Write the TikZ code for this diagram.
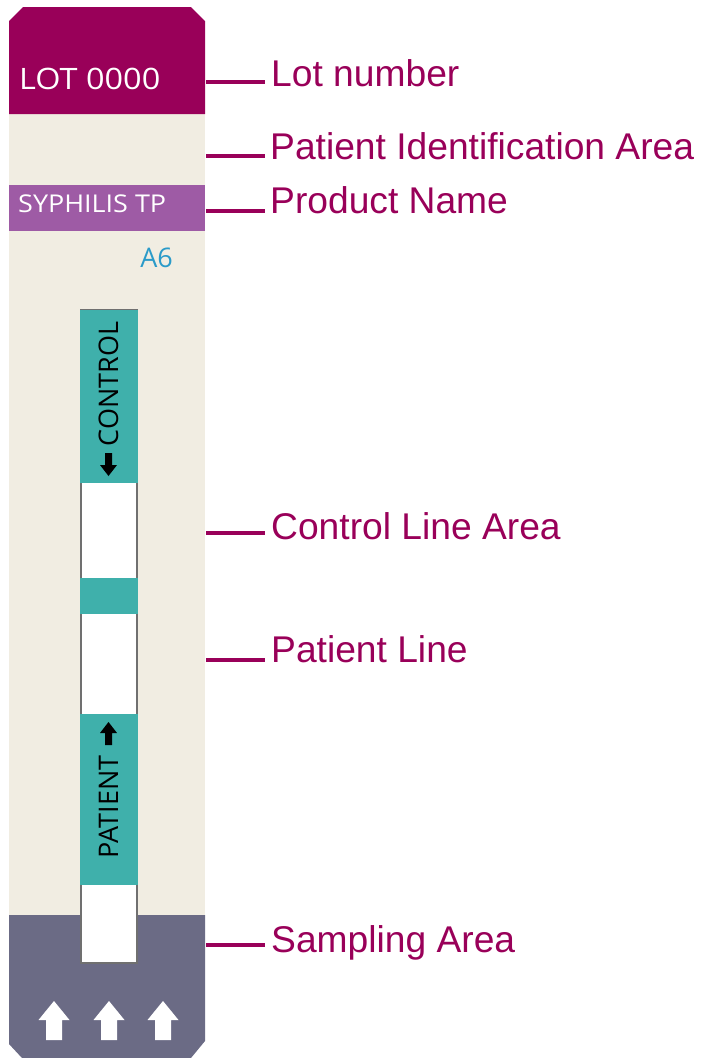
\documentclass[tikz,border=0pt]{standalone}
\usepackage{fontspec}
\setmainfont{Liberation Sans}
\newfontfamily\cardfont{Open Sans}
\definecolor{lotc}{HTML}{990059}
\definecolor{prodc}{HTML}{9E5BA5}
\definecolor{beige}{HTML}{F1EDE2}
\definecolor{tealc}{HTML}{3FB0AB}
\definecolor{sampc}{HTML}{6B6B85}
\definecolor{bluec}{HTML}{2B9BC9}
\definecolor{borderc}{HTML}{707070}
\tikzset{
  leader/.style={draw=lotc, line width=4pt},
  lbl/.style={anchor=base west, inner sep=0pt, text=lotc, font=\fontsize{37.2}{40}\selectfont},
  cardtxt/.style={anchor=base west, inner sep=0pt, text=white, xscale=1.1},
  striptxt/.style={inner sep=0pt, rotate=90, font=\cardfont\fontsize{27}{30}\selectfont, text=black},
  bigarrow/.pic={\fill[white] (-15.5,0) -- (0,-19) -- (15.5,0) -- (8,0) -- (8,20) -- (-8,20) -- (-8,0) -- cycle;},
  smalldown/.pic={\fill[black] (-3.5,-12) -- (3.5,-12) -- (3.5,0) -- (8.5,0) -- (0,11) -- (-8.5,0) -- (-3.5,0) -- cycle;},
  smallup/.pic={\fill[black] (-3.5,12) -- (3.5,12) -- (3.5,0) -- (8.5,0) -- (0,-11) -- (-8.5,0) -- (-3.5,0) -- cycle;}
}
\begin{document}
\begin{tikzpicture}[x=1pt,y=-1pt]
\useasboundingbox (0,0) rectangle (702,1058);
% card body
\fill[beige] (9,114) rectangle (205,915);
\fill[lotc] (9,114) -- (9,21) -- (23,7) -- (191,7) -- (205,21) -- (205,114) -- cycle;
\fill[prodc] (9,185) rectangle (205,231);
\fill[sampc] (9,915) -- (9,1044) -- (22,1058) -- (191,1058) -- (205,1041) -- (205,915) -- cycle;
% card texts
\node[cardtxt, font=\cardfont\fontsize{29.5}{32}\selectfont] (lot) at (19,89) {LOT 0000};
\node[cardtxt, font=\cardfont\fontsize{24.5}{28}\selectfont] (prod) at (18,212) {SYPHILIS TP};
\node[anchor=base east, inner sep=0pt, text=bluec, font=\cardfont\fontsize{27}{30}\selectfont] (a6) at (173,267) {A6};
% strip
\filldraw[fill=white, draw=borderc, line width=1.5pt] (81,310) rectangle (137,963);
\fill[tealc] (80.25,310) rectangle (137.75,483);
\fill[tealc] (80.25,578) rectangle (137.75,614);
\fill[tealc] (80.25,714) rectangle (137.75,885);
\node[striptxt] (control) at (108.5,384) {CONTROL};
\node[striptxt] (patient) at (108.5,807) {PATIENT};
\pic at (108.5,465) {smalldown};
\pic at (108.5,733) {smallup};
% sampling arrows
\pic at (54,1020) {bigarrow};
\pic at (109,1020) {bigarrow};
\pic at (163,1020) {bigarrow};
% labels
\node[lbl] (t1) at (271,86) {Lot number};
\node[lbl] (t2) at (270,159) {Patient Identification Area};
\node[lbl] (t3) at (270,213) {Product Name};
\node[lbl] (t4) at (271,539) {Control Line Area};
\node[lbl] (t5) at (271,662) {Patient Line};
\node[lbl] (t6) at (271,952) {Sampling Area};
% leaders
\coordinate (c1) at (206,82);
\coordinate (c2) at (206,156);
\coordinate (c3) at (206,211);
\coordinate (c4) at (206,533);
\coordinate (c5) at (206,660);
\coordinate (c6) at (206,945);
\foreach \i in {1,...,6}{
  \draw[leader] (c\i) -- ++(59,0);
}
\end{tikzpicture}
\end{document}
